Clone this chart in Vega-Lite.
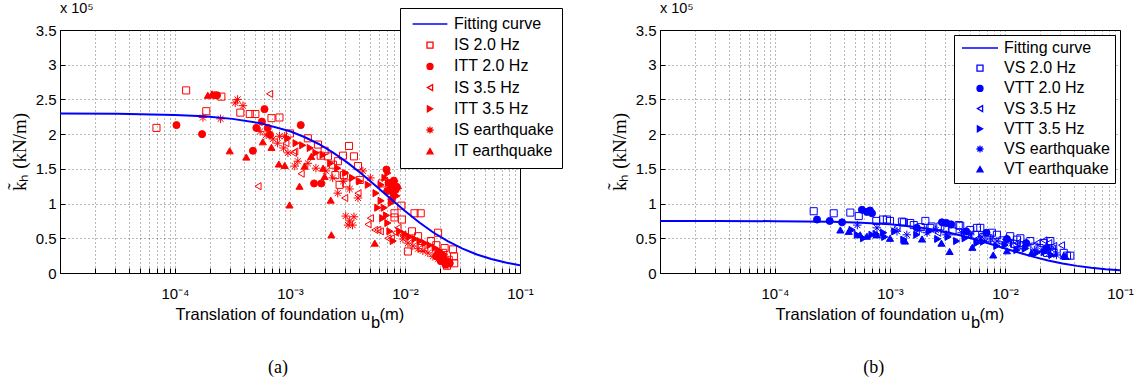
{
  "$schema": "https://vega.github.io/schema/vega-lite/v6.json",
  "background": "white",
  "padding": {"left": 9, "top": 0, "right": 5, "bottom": 5},
  "datasets": {
    "lp": [
      {"u":6.9e-5,"k":2.09,"s":"IS 2.0 Hz"},{"u":1.25e-4,"k":2.63,"s":"IS 2.0 Hz"},{"u":1.87e-4,"k":2.33,"s":"IS 2.0 Hz"},{"u":2.53e-4,"k":2.54,"s":"IS 2.0 Hz"},{"u":3.7e-4,"k":2.31,"s":"IS 2.0 Hz"},{"u":4.47e-4,"k":2.29,"s":"IS 2.0 Hz"},{"u":5.0e-4,"k":2.29,"s":"IS 2.0 Hz"},{"u":6.9e-4,"k":2.23,"s":"IS 2.0 Hz"},{"u":8.1e-4,"k":2.24,"s":"IS 2.0 Hz"},{"u":1.0e-3,"k":2.01,"s":"IS 2.0 Hz"},{"u":1.43e-3,"k":1.94,"s":"IS 2.0 Hz"},{"u":1.75e-3,"k":1.85,"s":"IS 2.0 Hz"},{"u":1.85e-3,"k":1.69,"s":"IS 2.0 Hz"},{"u":2.0e-3,"k":1.76,"s":"IS 2.0 Hz"},{"u":2.14e-3,"k":1.68,"s":"IS 2.0 Hz"},{"u":2.36e-3,"k":1.56,"s":"IS 2.0 Hz"},{"u":2.48e-3,"k":1.41,"s":"IS 2.0 Hz"},{"u":2.61e-3,"k":1.61,"s":"IS 2.0 Hz"},{"u":2.7e-3,"k":1.27,"s":"IS 2.0 Hz"},{"u":2.89e-3,"k":1.69,"s":"IS 2.0 Hz"},{"u":2.95e-3,"k":1.41,"s":"IS 2.0 Hz"},{"u":3.09e-3,"k":1.29,"s":"IS 2.0 Hz"},{"u":3.26e-3,"k":1.83,"s":"IS 2.0 Hz"},{"u":3.6e-3,"k":1.68,"s":"IS 2.0 Hz"},{"u":3.9e-3,"k":1.54,"s":"IS 2.0 Hz"},{"u":4.04e-3,"k":1.34,"s":"IS 2.0 Hz"},{"u":6.3e-3,"k":1.29,"s":"IS 2.0 Hz"},{"u":8.1e-3,"k":0.86,"s":"IS 2.0 Hz"},{"u":8.1e-3,"k":0.80,"s":"IS 2.0 Hz"},{"u":9.3e-3,"k":0.97,"s":"IS 2.0 Hz"},{"u":9.4e-3,"k":0.77,"s":"IS 2.0 Hz"},{"u":1.15e-2,"k":0.6,"s":"IS 2.0 Hz"},{"u":1.21e-2,"k":0.86,"s":"IS 2.0 Hz"},{"u":1.37e-2,"k":0.86,"s":"IS 2.0 Hz"},{"u":1.3e-2,"k":0.53,"s":"IS 2.0 Hz"},{"u":1.94e-2,"k":0.58,"s":"IS 2.0 Hz"},{"u":1.06e-2,"k":0.31,"s":"IS 2.0 Hz"},{"u":1.39e-2,"k":0.36,"s":"IS 2.0 Hz"},{"u":1.68e-2,"k":0.46,"s":"IS 2.0 Hz"},{"u":1.87e-2,"k":0.40,"s":"IS 2.0 Hz"},{"u":2.15e-2,"k":0.29,"s":"IS 2.0 Hz"},{"u":2.21e-2,"k":0.36,"s":"IS 2.0 Hz"},{"u":2.4e-2,"k":0.19,"s":"IS 2.0 Hz"},{"u":2.61e-2,"k":0.34,"s":"IS 2.0 Hz"},{"u":2.67e-2,"k":0.24,"s":"IS 2.0 Hz"},{"u":2.68e-2,"k":0.14,"s":"IS 2.0 Hz"},{"u":2.32e-2,"k":0.105,"s":"IS 2.0 Hz"},
      {"u":1.03e-4,"k":2.13,"s":"ITT 2.0 Hz"},{"u":1.72e-4,"k":2.0,"s":"ITT 2.0 Hz"},{"u":2.21e-4,"k":2.56,"s":"ITT 2.0 Hz"},{"u":2.32e-4,"k":2.56,"s":"ITT 2.0 Hz"},{"u":4.76e-4,"k":1.76,"s":"ITT 2.0 Hz"},{"u":5.1e-4,"k":2.09,"s":"ITT 2.0 Hz"},{"u":5.7e-4,"k":2.18,"s":"ITT 2.0 Hz"},{"u":6.0e-4,"k":2.36,"s":"ITT 2.0 Hz"},{"u":6.4e-4,"k":2.09,"s":"ITT 2.0 Hz"},{"u":6.7e-4,"k":1.99,"s":"ITT 2.0 Hz"},{"u":1.24e-3,"k":2.13,"s":"ITT 2.0 Hz"},{"u":1.62e-3,"k":1.29,"s":"ITT 2.0 Hz"},{"u":1.87e-3,"k":1.29,"s":"ITT 2.0 Hz"},{"u":6.9e-3,"k":1.49,"s":"ITT 2.0 Hz"},{"u":7.0e-3,"k":1.18,"s":"ITT 2.0 Hz"},{"u":7.4e-3,"k":1.22,"s":"ITT 2.0 Hz"},{"u":7.9e-3,"k":1.15,"s":"ITT 2.0 Hz"},{"u":7.7e-3,"k":1.06,"s":"ITT 2.0 Hz"},{"u":8.3e-3,"k":1.2,"s":"ITT 2.0 Hz"},{"u":7.2e-3,"k":1.30,"s":"ITT 2.0 Hz"},{"u":7.8e-3,"k":1.26,"s":"ITT 2.0 Hz"},{"u":8.5e-3,"k":1.24,"s":"ITT 2.0 Hz"},{"u":8.0e-3,"k":1.33,"s":"ITT 2.0 Hz"},{"u":1.87e-2,"k":0.24,"s":"ITT 2.0 Hz"},{"u":1.94e-2,"k":0.29,"s":"ITT 2.0 Hz"},{"u":2.05e-2,"k":0.17,"s":"ITT 2.0 Hz"},{"u":2.15e-2,"k":0.22,"s":"ITT 2.0 Hz"},{"u":2.36e-2,"k":0.17,"s":"ITT 2.0 Hz"},{"u":2.45e-2,"k":0.14,"s":"ITT 2.0 Hz"},{"u":2.25e-2,"k":0.12,"s":"ITT 2.0 Hz"},{"u":2.0e-2,"k":0.21,"s":"ITT 2.0 Hz"},
      {"u":6.65e-4,"k":2.58,"s":"IS 3.5 Hz"},{"u":5.27e-4,"k":1.25,"s":"IS 3.5 Hz"},{"u":9.2e-4,"k":1.87,"s":"IS 3.5 Hz"},{"u":1.07e-3,"k":1.73,"s":"IS 3.5 Hz"},{"u":1.1e-3,"k":1.75,"s":"IS 3.5 Hz"},{"u":1.25e-3,"k":1.43,"s":"IS 3.5 Hz"},{"u":2.99e-3,"k":1.08,"s":"IS 3.5 Hz"},{"u":3.9e-3,"k":1.15,"s":"IS 3.5 Hz"},{"u":4.77e-3,"k":0.70,"s":"IS 3.5 Hz"},{"u":5.0e-3,"k":0.79,"s":"IS 3.5 Hz"},{"u":5.46e-3,"k":0.62,"s":"IS 3.5 Hz"},{"u":5.8e-3,"k":0.62,"s":"IS 3.5 Hz"},{"u":6.1e-3,"k":0.60,"s":"IS 3.5 Hz"},{"u":7.1e-3,"k":0.50,"s":"IS 3.5 Hz"},{"u":7.6e-3,"k":0.50,"s":"IS 3.5 Hz"},{"u":8.3e-3,"k":0.58,"s":"IS 3.5 Hz"},{"u":8.7e-3,"k":0.65,"s":"IS 3.5 Hz"},{"u":9.6e-3,"k":0.55,"s":"IS 3.5 Hz"},
      {"u":9.6e-4,"k":1.94,"s":"ITT 3.5 Hz"},{"u":1.13e-3,"k":1.87,"s":"ITT 3.5 Hz"},{"u":1.29e-3,"k":1.84,"s":"ITT 3.5 Hz"},{"u":1.5e-3,"k":1.80,"s":"ITT 3.5 Hz"},{"u":1.68e-3,"k":1.73,"s":"ITT 3.5 Hz"},{"u":1.94e-3,"k":1.70,"s":"ITT 3.5 Hz"},{"u":2.26e-3,"k":1.58,"s":"ITT 3.5 Hz"},{"u":2.6e-3,"k":1.51,"s":"ITT 3.5 Hz"},{"u":3.05e-3,"k":1.44,"s":"ITT 3.5 Hz"},{"u":3.5e-3,"k":1.37,"s":"ITT 3.5 Hz"},{"u":4.05e-3,"k":1.32,"s":"ITT 3.5 Hz"},{"u":4.8e-3,"k":1.27,"s":"ITT 3.5 Hz"},{"u":5.6e-3,"k":1.15,"s":"ITT 3.5 Hz"},{"u":6.2e-3,"k":1.04,"s":"ITT 3.5 Hz"},{"u":6.6e-3,"k":0.94,"s":"ITT 3.5 Hz"},{"u":6.9e-3,"k":0.83,"s":"ITT 3.5 Hz"},{"u":7.1e-3,"k":0.72,"s":"ITT 3.5 Hz"},{"u":7.4e-3,"k":0.60,"s":"ITT 3.5 Hz"},{"u":7.9e-3,"k":0.46,"s":"ITT 3.5 Hz"},{"u":6.4e-3,"k":0.79,"s":"ITT 3.5 Hz"},{"u":5.8e-3,"k":0.94,"s":"ITT 3.5 Hz"},{"u":6.2e-3,"k":1.27,"s":"ITT 3.5 Hz"},{"u":6.7e-3,"k":1.37,"s":"ITT 3.5 Hz"},{"u":7.1e-3,"k":1.44,"s":"ITT 3.5 Hz"},{"u":8.2e-3,"k":1.32,"s":"ITT 3.5 Hz"},{"u":8.8e-3,"k":1.22,"s":"ITT 3.5 Hz"},{"u":8.5e-3,"k":1.11,"s":"ITT 3.5 Hz"},{"u":7.6e-3,"k":1.01,"s":"ITT 3.5 Hz"},{"u":9.0e-3,"k":0.60,"s":"ITT 3.5 Hz"},{"u":1.0e-2,"k":0.56,"s":"ITT 3.5 Hz"},{"u":1.1e-2,"k":0.52,"s":"ITT 3.5 Hz"},{"u":1.22e-2,"k":0.49,"s":"ITT 3.5 Hz"},{"u":1.35e-2,"k":0.46,"s":"ITT 3.5 Hz"},{"u":1.49e-2,"k":0.43,"s":"ITT 3.5 Hz"},{"u":1.65e-2,"k":0.40,"s":"ITT 3.5 Hz"},{"u":1.83e-2,"k":0.36,"s":"ITT 3.5 Hz"},{"u":2.0e-2,"k":0.32,"s":"ITT 3.5 Hz"},{"u":2.2e-2,"k":0.27,"s":"ITT 3.5 Hz"},
      {"u":1.75e-4,"k":2.24,"s":"IS earthquake"},{"u":2.49e-4,"k":2.22,"s":"IS earthquake"},{"u":3.34e-4,"k":2.45,"s":"IS earthquake"},{"u":3.5e-4,"k":2.5,"s":"IS earthquake"},{"u":3.9e-4,"k":2.41,"s":"IS earthquake"},{"u":5.5e-4,"k":2.04,"s":"IS earthquake"},{"u":6.2e-4,"k":1.99,"s":"IS earthquake"},{"u":7.1e-4,"k":1.93,"s":"IS earthquake"},{"u":7.8e-4,"k":1.87,"s":"IS earthquake"},{"u":8.1e-4,"k":1.97,"s":"IS earthquake"},{"u":8.8e-4,"k":1.80,"s":"IS earthquake"},{"u":9.0e-4,"k":1.97,"s":"IS earthquake"},{"u":9.6e-4,"k":1.73,"s":"IS earthquake"},{"u":1.1e-3,"k":1.54,"s":"IS earthquake"},{"u":1.17e-3,"k":1.61,"s":"IS earthquake"},{"u":1.43e-3,"k":1.58,"s":"IS earthquake"},{"u":1.68e-3,"k":1.51,"s":"IS earthquake"},{"u":2.05e-3,"k":1.47,"s":"IS earthquake"},{"u":2.35e-3,"k":1.37,"s":"IS earthquake"},{"u":2.6e-3,"k":1.15,"s":"IS earthquake"},{"u":2.9e-3,"k":1.32,"s":"IS earthquake"},{"u":3.05e-3,"k":0.82,"s":"IS earthquake"},{"u":3.2e-3,"k":0.69,"s":"IS earthquake"},{"u":3.3e-3,"k":0.75,"s":"IS earthquake"},{"u":3.3e-3,"k":1.21,"s":"IS earthquake"},{"u":3.5e-3,"k":0.69,"s":"IS earthquake"},{"u":3.6e-3,"k":0.81,"s":"IS earthquake"},{"u":3.9e-3,"k":1.08,"s":"IS earthquake"},{"u":4.3e-3,"k":1.47,"s":"IS earthquake"},{"u":5.0e-3,"k":1.37,"s":"IS earthquake"},{"u":9.6e-3,"k":0.49,"s":"IS earthquake"},{"u":1.06e-2,"k":0.43,"s":"IS earthquake"},{"u":1.17e-2,"k":0.39,"s":"IS earthquake"},{"u":1.3e-2,"k":0.35,"s":"IS earthquake"},{"u":1.43e-2,"k":0.32,"s":"IS earthquake"},{"u":1.58e-2,"k":0.29,"s":"IS earthquake"},{"u":1.75e-2,"k":0.24,"s":"IS earthquake"},{"u":1.94e-2,"k":0.20,"s":"IS earthquake"},{"u":2.15e-2,"k":0.17,"s":"IS earthquake"},{"u":2.36e-2,"k":0.115,"s":"IS earthquake"},
      {"u":1.93e-4,"k":2.56,"s":"IT earthquake"},{"u":2.1e-4,"k":2.58,"s":"IT earthquake"},{"u":2.99e-4,"k":1.76,"s":"IT earthquake"},{"u":4.17e-4,"k":1.67,"s":"IT earthquake"},{"u":5.8e-4,"k":1.89,"s":"IT earthquake"},{"u":6.9e-4,"k":1.81,"s":"IT earthquake"},{"u":8.0e-4,"k":1.57,"s":"IT earthquake"},{"u":9.0e-4,"k":1.55,"s":"IT earthquake"},{"u":9.9e-4,"k":0.98,"s":"IT earthquake"},{"u":1.21e-3,"k":1.25,"s":"IT earthquake"},{"u":1.34e-3,"k":1.54,"s":"IT earthquake"},{"u":1.53e-3,"k":1.68,"s":"IT earthquake"},{"u":1.94e-3,"k":1.51,"s":"IT earthquake"},{"u":2.0e-3,"k":1.39,"s":"IT earthquake"},{"u":2.26e-3,"k":1.05,"s":"IT earthquake"},{"u":2.29e-3,"k":0.55,"s":"IT earthquake"},{"u":5.46e-3,"k":0.43,"s":"IT earthquake"}
    ],
    "lf": [
      {"u":0.00001,"k":2.298,"s":"Fitting curve"},{"u":0.00003162,"k":2.293,"s":"Fitting curve"},{"u":0.0001,"k":2.277,"s":"Fitting curve"},{"u":0.0001778,"k":2.257,"s":"Fitting curve"},{"u":0.0003162,"k":2.220,"s":"Fitting curve"},{"u":0.0005623,"k":2.155,"s":"Fitting curve"},{"u":0.001,"k":2.041,"s":"Fitting curve"},{"u":0.001334,"k":1.959,"s":"Fitting curve"},{"u":0.001778,"k":1.858,"s":"Fitting curve"},{"u":0.002371,"k":1.734,"s":"Fitting curve"},{"u":0.003162,"k":1.589,"s":"Fitting curve"},{"u":0.004217,"k":1.426,"s":"Fitting curve"},{"u":0.005623,"k":1.25,"s":"Fitting curve"},{"u":0.007499,"k":1.069,"s":"Fitting curve"},{"u":0.01,"k":0.892,"s":"Fitting curve"},{"u":0.01334,"k":0.727,"s":"Fitting curve"},{"u":0.01778,"k":0.580,"s":"Fitting curve"},{"u":0.02371,"k":0.4545,"s":"Fitting curve"},{"u":0.03162,"k":0.350,"s":"Fitting curve"},{"u":0.04217,"k":0.2665,"s":"Fitting curve"},{"u":0.05623,"k":0.201,"s":"Fitting curve"},{"u":0.07499,"k":0.150,"s":"Fitting curve"},{"u":0.1,"k":0.111,"s":"Fitting curve"}
    ],
    "rp": [
      {"u":2.17e-4,"k":0.89,"s":"VS 2.0 Hz"},{"u":3.24e-4,"k":0.86,"s":"VS 2.0 Hz"},{"u":4.52e-4,"k":0.87,"s":"VS 2.0 Hz"},{"u":5.35e-4,"k":0.82,"s":"VS 2.0 Hz"},{"u":7.6e-4,"k":0.75,"s":"VS 2.0 Hz"},{"u":8.7e-4,"k":0.77,"s":"VS 2.0 Hz"},{"u":9.4e-4,"k":0.77,"s":"VS 2.0 Hz"},{"u":1.0e-3,"k":0.75,"s":"VS 2.0 Hz"},{"u":1.27e-3,"k":0.74,"s":"VS 2.0 Hz"},{"u":1.32e-3,"k":0.73,"s":"VS 2.0 Hz"},{"u":1.5e-3,"k":0.72,"s":"VS 2.0 Hz"},{"u":1.61e-3,"k":0.69,"s":"VS 2.0 Hz"},{"u":1.85e-3,"k":0.66,"s":"VS 2.0 Hz"},{"u":2.03e-3,"k":0.75,"s":"VS 2.0 Hz"},{"u":2.24e-3,"k":0.65,"s":"VS 2.0 Hz"},{"u":2.3e-3,"k":0.67,"s":"VS 2.0 Hz"},{"u":2.74e-3,"k":0.67,"s":"VS 2.0 Hz"},{"u":3.96e-3,"k":0.69,"s":"VS 2.0 Hz"},{"u":4.08e-3,"k":0.68,"s":"VS 2.0 Hz"},{"u":4.99e-3,"k":0.62,"s":"VS 2.0 Hz"},{"u":5.7e-3,"k":0.65,"s":"VS 2.0 Hz"},{"u":6.1e-3,"k":0.65,"s":"VS 2.0 Hz"},{"u":7.7e-3,"k":0.58,"s":"VS 2.0 Hz"},{"u":8.5e-3,"k":0.55,"s":"VS 2.0 Hz"},{"u":1.11e-2,"k":0.53,"s":"VS 2.0 Hz"},{"u":1.27e-2,"k":0.48,"s":"VS 2.0 Hz"},{"u":1.36e-2,"k":0.50,"s":"VS 2.0 Hz"},{"u":1.66e-2,"k":0.46,"s":"VS 2.0 Hz"},{"u":2.17e-2,"k":0.43,"s":"VS 2.0 Hz"},{"u":2.48e-2,"k":0.46,"s":"VS 2.0 Hz"},{"u":2.32e-2,"k":0.29,"s":"VS 2.0 Hz"},{"u":2.56e-2,"k":0.30,"s":"VS 2.0 Hz"},{"u":2.65e-2,"k":0.29,"s":"VS 2.0 Hz"},{"u":3.24e-2,"k":0.29,"s":"VS 2.0 Hz"},{"u":3.46e-2,"k":0.25,"s":"VS 2.0 Hz"},{"u":3.7e-2,"k":0.25,"s":"VS 2.0 Hz"},{"u":3.0e-3,"k":0.63,"s":"VS 2.0 Hz"},{"u":3.5e-3,"k":0.60,"s":"VS 2.0 Hz"},{"u":4.5e-3,"k":0.57,"s":"VS 2.0 Hz"},{"u":5.5e-3,"k":0.55,"s":"VS 2.0 Hz"},{"u":6.5e-3,"k":0.52,"s":"VS 2.0 Hz"},{"u":7.2e-3,"k":0.50,"s":"VS 2.0 Hz"},{"u":9.5e-3,"k":0.47,"s":"VS 2.0 Hz"},{"u":1.2e-2,"k":0.42,"s":"VS 2.0 Hz"},{"u":1.45e-2,"k":0.40,"s":"VS 2.0 Hz"},{"u":1.8e-2,"k":0.38,"s":"VS 2.0 Hz"},{"u":2.0e-2,"k":0.36,"s":"VS 2.0 Hz"},
      {"u":2.32e-4,"k":0.77,"s":"VTT 2.0 Hz"},{"u":2.99e-4,"k":0.75,"s":"VTT 2.0 Hz"},{"u":3.83e-4,"k":0.73,"s":"VTT 2.0 Hz"},{"u":5.7e-4,"k":0.91,"s":"VTT 2.0 Hz"},{"u":6.3e-4,"k":0.88,"s":"VTT 2.0 Hz"},{"u":6.7e-4,"k":0.90,"s":"VTT 2.0 Hz"},{"u":6.97e-4,"k":0.86,"s":"VTT 2.0 Hz"},{"u":1.71e-3,"k":0.65,"s":"VTT 2.0 Hz"},{"u":2.83e-3,"k":0.73,"s":"VTT 2.0 Hz"},{"u":3.1e-3,"k":0.72,"s":"VTT 2.0 Hz"},{"u":3.4e-3,"k":0.70,"s":"VTT 2.0 Hz"},{"u":4.6e-3,"k":0.60,"s":"VTT 2.0 Hz"},{"u":6.9e-3,"k":0.58,"s":"VTT 2.0 Hz"},{"u":1.04e-2,"k":0.49,"s":"VTT 2.0 Hz"},{"u":1.53e-2,"k":0.43,"s":"VTT 2.0 Hz"},{"u":2.3e-2,"k":0.36,"s":"VTT 2.0 Hz"},
      {"u":1.15e-3,"k":0.66,"s":"VS 3.5 Hz"},{"u":2.6e-3,"k":0.58,"s":"VS 3.5 Hz"},{"u":5.7e-3,"k":0.49,"s":"VS 3.5 Hz"},{"u":1.27e-2,"k":0.43,"s":"VS 3.5 Hz"},{"u":1.9e-2,"k":0.43,"s":"VS 3.5 Hz"},{"u":2.18e-2,"k":0.47,"s":"VS 3.5 Hz"},{"u":2.4e-2,"k":0.43,"s":"VS 3.5 Hz"},{"u":2.58e-2,"k":0.35,"s":"VS 3.5 Hz"},{"u":2.65e-2,"k":0.39,"s":"VS 3.5 Hz"},{"u":3.1e-2,"k":0.40,"s":"VS 3.5 Hz"},
      {"u":4.68e-4,"k":0.62,"s":"VTT 3.5 Hz"},{"u":5.2e-4,"k":0.55,"s":"VTT 3.5 Hz"},{"u":5.9e-4,"k":0.50,"s":"VTT 3.5 Hz"},{"u":6.97e-4,"k":0.55,"s":"VTT 3.5 Hz"},{"u":7.6e-4,"k":0.56,"s":"VTT 3.5 Hz"},{"u":8.8e-4,"k":0.58,"s":"VTT 3.5 Hz"},{"u":1.32e-3,"k":0.48,"s":"VTT 3.5 Hz"},{"u":1.71e-3,"k":0.55,"s":"VTT 3.5 Hz"},{"u":2.6e-3,"k":0.49,"s":"VTT 3.5 Hz"},{"u":3.8e-3,"k":0.46,"s":"VTT 3.5 Hz"},{"u":5.7e-3,"k":0.43,"s":"VTT 3.5 Hz"},{"u":8.5e-3,"k":0.39,"s":"VTT 3.5 Hz"},{"u":1.27e-2,"k":0.33,"s":"VTT 3.5 Hz"},{"u":1.9e-2,"k":0.29,"s":"VTT 3.5 Hz"},{"u":2.56e-2,"k":0.26,"s":"VTT 3.5 Hz"},{"u":2.2e-3,"k":0.60,"s":"VTT 3.5 Hz"},{"u":3.2e-3,"k":0.52,"s":"VTT 3.5 Hz"},{"u":4.5e-3,"k":0.50,"s":"VTT 3.5 Hz"},{"u":6.5e-3,"k":0.45,"s":"VTT 3.5 Hz"},{"u":1.0e-2,"k":0.40,"s":"VTT 3.5 Hz"},{"u":1.5e-2,"k":0.35,"s":"VTT 3.5 Hz"},{"u":2.2e-2,"k":0.30,"s":"VTT 3.5 Hz"},{"u":9.0e-4,"k":0.52,"s":"VTT 3.5 Hz"},{"u":1.1e-3,"k":0.60,"s":"VTT 3.5 Hz"},
      {"u":5.2e-4,"k":0.69,"s":"VS earthquake"},{"u":7.7e-4,"k":0.65,"s":"VS earthquake"},{"u":1.15e-3,"k":0.60,"s":"VS earthquake"},{"u":1.4e-3,"k":0.55,"s":"VS earthquake"},{"u":2.1e-3,"k":0.58,"s":"VS earthquake"},{"u":3.1e-3,"k":0.55,"s":"VS earthquake"},{"u":4.2e-3,"k":0.58,"s":"VS earthquake"},{"u":6.3e-3,"k":0.52,"s":"VS earthquake"},{"u":8.5e-3,"k":0.46,"s":"VS earthquake"},{"u":1.14e-2,"k":0.43,"s":"VS earthquake"},{"u":1.53e-2,"k":0.39,"s":"VS earthquake"},{"u":2.1e-2,"k":0.32,"s":"VS earthquake"},{"u":2.8e-2,"k":0.26,"s":"VS earthquake"},{"u":1.8e-3,"k":0.62,"s":"VS earthquake"},{"u":2.5e-3,"k":0.62,"s":"VS earthquake"},{"u":5.0e-3,"k":0.55,"s":"VS earthquake"},{"u":7.5e-3,"k":0.49,"s":"VS earthquake"},{"u":1.0e-2,"k":0.45,"s":"VS earthquake"},{"u":1.3e-2,"k":0.38,"s":"VS earthquake"},{"u":1.8e-2,"k":0.33,"s":"VS earthquake"},{"u":2.4e-2,"k":0.28,"s":"VS earthquake"},
      {"u":3.7e-4,"k":0.62,"s":"VT earthquake"},{"u":4.38e-4,"k":0.60,"s":"VT earthquake"},{"u":5.5e-4,"k":0.55,"s":"VT earthquake"},{"u":6.3e-4,"k":0.53,"s":"VT earthquake"},{"u":7.7e-4,"k":0.55,"s":"VT earthquake"},{"u":1.0e-3,"k":0.50,"s":"VT earthquake"},{"u":1.35e-3,"k":0.46,"s":"VT earthquake"},{"u":1.9e-3,"k":0.49,"s":"VT earthquake"},{"u":2.8e-3,"k":0.43,"s":"VT earthquake"},{"u":3.3e-3,"k":0.31,"s":"VT earthquake"},{"u":5.2e-3,"k":0.37,"s":"VT earthquake"},{"u":7.9e-3,"k":0.26,"s":"VT earthquake"},{"u":1.04e-2,"k":0.32,"s":"VT earthquake"},{"u":1.7e-2,"k":0.29,"s":"VT earthquake"},{"u":3.24e-2,"k":0.25,"s":"VT earthquake"},{"u":3.35e-2,"k":0.24,"s":"VT earthquake"}
    ],
    "rf": [
      {"u":0.00001,"k":0.7498,"s":"Fitting curve"},{"u":0.00003162,"k":0.749,"s":"Fitting curve"},{"u":0.0001,"k":0.7467,"s":"Fitting curve"},{"u":0.0001778,"k":0.7434,"s":"Fitting curve"},{"u":0.0003162,"k":0.737,"s":"Fitting curve"},{"u":0.0005623,"k":0.7244,"s":"Fitting curve"},{"u":0.001,"k":0.7005,"s":"Fitting curve"},{"u":0.001334,"k":0.682,"s":"Fitting curve"},{"u":0.001778,"k":0.657,"s":"Fitting curve"},{"u":0.002371,"k":0.6254,"s":"Fitting curve"},{"u":0.003162,"k":0.5855,"s":"Fitting curve"},{"u":0.004217,"k":0.5368,"s":"Fitting curve"},{"u":0.005623,"k":0.480,"s":"Fitting curve"},{"u":0.007499,"k":0.4183,"s":"Fitting curve"},{"u":0.01,"k":0.354,"s":"Fitting curve"},{"u":0.01334,"k":0.2905,"s":"Fitting curve"},{"u":0.01778,"k":0.232,"s":"Fitting curve"},{"u":0.02371,"k":0.1804,"s":"Fitting curve"},{"u":0.03162,"k":0.137,"s":"Fitting curve"},{"u":0.04217,"k":0.1027,"s":"Fitting curve"},{"u":0.05623,"k":0.0758,"s":"Fitting curve"},{"u":0.07499,"k":0.0553,"s":"Fitting curve"},{"u":0.1,"k":0.040,"s":"Fitting curve"}
    ]
  },
  "spacing": 46,
  "resolve": {
    "scale": {"x": "independent", "y": "independent", "shape": "independent", "fill": "independent", "stroke": "independent"},
    "legend": {"shape": "independent", "fill": "independent", "stroke": "independent"}
  },
  "hconcat": [
    {
      "title": {"text": "(a)", "orient": "bottom", "anchor": "middle", "font": "Liberation Serif", "fontSize": 18, "fontWeight": "normal", "color": "black", "offset": 28, "dx": -8},
      "vconcat": [
        {
          "width": 460,
          "height": 243,
          "title": {"text": "x 10\u2075", "anchor": "start", "frame": "group", "font": "Liberation Sans", "fontSize": 14.5, "fontWeight": "normal", "color": "black", "offset": 7},
          "encoding": {
            "x": {"field": "u", "type": "quantitative", "scale": {"type": "log", "domain": [0.00001, 0.1]},
              "axis": {"values": [0.00001,0.00002,0.00003,0.00004,0.00005,0.00006,0.00007,0.00008,0.00009,0.0001,0.0002,0.0003,0.0004,0.0005,0.0006,0.0007,0.0008,0.0009,0.001,0.002,0.003,0.004,0.005,0.006,0.007,0.008,0.009,0.01,0.02,0.03,0.04,0.05,0.06,0.07,0.08,0.09,0.1],
                "labelExpr": "datum.value == 0.0001 ? '10\u207b\u2074' : datum.value == 0.001 ? '10\u207b\u00b3' : datum.value == 0.01 ? '10\u207b\u00b2' : datum.value == 0.1 ? '10\u207b\u00b9' : ''",
                "labelOverlap": false, "labelFlush": false, "labelFontSize": 15, "labelPadding": 18, "tickSize": -5,
                "title": ["Translation of foundation u\u2007(m)", "\u200b\u2007\u2007\u2007\u2007\u2007\u2007\u2007\u2007\u2007\u2007\u2007\u2007\u2007\u2007\u2007\u2007\u2007\u2007\u2007\u2007\u2007\u200a\u200ab"],
                "titleAlign": "left", "titleX": 115, "titleLineHeight": 8, "titleFontSize": 16.5, "titleFont": "Liberation Sans", "titleFontWeight": "normal", "titlePadding": 5}},
            "y": {"field": "k", "type": "quantitative", "scale": {"domain": [0, 3.5]},
              "axis": {"values": [0,0.5,1,1.5,2,2.5,3,3.5], "format": "~g", "labelFontSize": 15, "labelPadding": 9, "tickSize": -5,
                "title": "k\u0303\u2095 (kN/m)", "titleFont": "Liberation Serif", "titleFontSize": 19, "titleFontWeight": "normal", "titlePadding": 6}}
          },
          "layer": [
            {
              "data": {"name": "lp"},
              "mark": {"type": "point", "opacity": 1, "strokeWidth": 1, "size": 50, "clip": true},
              "encoding": {
                "shape": {"field": "s", "type": "nominal",
                  "scale": {"domain": ["Fitting curve","IS 2.0 Hz","ITT 2.0 Hz","IS 3.5 Hz","ITT 3.5 Hz","IS earthquake","IT earthquake"],
                    "range": ["M-5.8,0L5.8,0","square","circle","triangle-left","triangle-right","M-1.2,0L1.2,0M0,-1.2L0,1.2M-0.85,-0.85L0.85,0.85M-0.85,0.85L0.85,-0.85","triangle-up"]},
                  "legend": {"title": null, "orient": "none", "legendX": 340, "legendY": -22, "padding": 8, "strokeColor": "black", "fillColor": "white", "cornerRadius": 0,
                    "labelFont": "Liberation Sans", "labelFontSize": 16, "labelColor": "black", "labelLimit": 0, "symbolSize": 36, "symbolStrokeWidth": 1.3, "symbolOffset": 14, "labelOffset": 16, "rowPadding": 5.2}},
                "fill": {"field": "s", "type": "nominal",
                  "scale": {"domain": ["Fitting curve","IS 2.0 Hz","ITT 2.0 Hz","IS 3.5 Hz","ITT 3.5 Hz","IS earthquake","IT earthquake"],
                    "range": ["transparent","transparent","#ff0000","transparent","#ff0000","transparent","#ff0000"]}},
                "stroke": {"field": "s", "type": "nominal",
                  "scale": {"domain": ["Fitting curve","IS 2.0 Hz","ITT 2.0 Hz","IS 3.5 Hz","ITT 3.5 Hz","IS earthquake","IT earthquake"],
                    "range": ["#0000ff","#ff0000","#ff0000","#ff0000","#ff0000","#ff0000","#ff0000"]}}
              }
            },
            {
              "data": {"name": "lf"},
              "mark": {"type": "line", "strokeWidth": 2, "clip": true},
              "encoding": {"stroke": {"field": "s", "type": "nominal"}}
            }
          ]
        }
      ]
    },
    {
      "title": {"text": "(b)", "orient": "bottom", "anchor": "middle", "font": "Liberation Serif", "fontSize": 18, "fontWeight": "normal", "color": "black", "offset": 28, "dx": 2},
      "vconcat": [
        {
          "width": 460,
          "height": 243,
          "title": {"text": "x 10\u2075", "anchor": "start", "frame": "group", "font": "Liberation Sans", "fontSize": 14.5, "fontWeight": "normal", "color": "black", "offset": 7},
          "encoding": {
            "x": {"field": "u", "type": "quantitative", "scale": {"type": "log", "domain": [0.00001, 0.1]},
              "axis": {"values": [0.00001,0.00002,0.00003,0.00004,0.00005,0.00006,0.00007,0.00008,0.00009,0.0001,0.0002,0.0003,0.0004,0.0005,0.0006,0.0007,0.0008,0.0009,0.001,0.002,0.003,0.004,0.005,0.006,0.007,0.008,0.009,0.01,0.02,0.03,0.04,0.05,0.06,0.07,0.08,0.09,0.1],
                "labelExpr": "datum.value == 0.0001 ? '10\u207b\u2074' : datum.value == 0.001 ? '10\u207b\u00b3' : datum.value == 0.01 ? '10\u207b\u00b2' : datum.value == 0.1 ? '10\u207b\u00b9' : ''",
                "labelOverlap": false, "labelFlush": false, "labelFontSize": 15, "labelPadding": 18, "tickSize": -5,
                "title": ["Translation of foundation u\u2007(m)", "\u200b\u2007\u2007\u2007\u2007\u2007\u2007\u2007\u2007\u2007\u2007\u2007\u2007\u2007\u2007\u2007\u2007\u2007\u2007\u2007\u2007\u2007\u200a\u200ab"],
                "titleAlign": "left", "titleX": 115, "titleLineHeight": 8, "titleFontSize": 16.5, "titleFont": "Liberation Sans", "titleFontWeight": "normal", "titlePadding": 5}},
            "y": {"field": "k", "type": "quantitative", "scale": {"domain": [0, 3.5]},
              "axis": {"values": [0,0.5,1,1.5,2,2.5,3,3.5], "format": "~g", "labelFontSize": 15, "labelPadding": 9, "tickSize": -5,
                "title": "k\u0303\u2095 (kN/m)", "titleFont": "Liberation Serif", "titleFontSize": 19, "titleFontWeight": "normal", "titlePadding": 6}}
          },
          "layer": [
            {
              "data": {"name": "rp"},
              "mark": {"type": "point", "opacity": 1, "strokeWidth": 1, "size": 50, "clip": true},
              "encoding": {
                "shape": {"field": "s", "type": "nominal",
                  "scale": {"domain": ["Fitting curve","VS 2.0 Hz","VTT 2.0 Hz","VS 3.5 Hz","VTT 3.5 Hz","VS earthquake","VT earthquake"],
                    "range": ["M-6,0L6,0","square","circle","triangle-left","triangle-right","M-1.2,0L1.2,0M0,-1.2L0,1.2M-0.85,-0.85L0.85,0.85M-0.85,0.85L0.85,-0.85","triangle-up"]},
                  "legend": {"title": null, "orient": "none", "legendX": 294, "legendY": 5, "padding": 5, "strokeColor": "black", "fillColor": "white", "cornerRadius": 0,
                    "labelFont": "Liberation Sans", "labelFontSize": 16, "labelColor": "black", "labelLimit": 0, "symbolSize": 36, "symbolStrokeWidth": 1.3, "symbolOffset": 13, "labelOffset": 16, "rowPadding": 4.2}},
                "fill": {"field": "s", "type": "nominal",
                  "scale": {"domain": ["Fitting curve","VS 2.0 Hz","VTT 2.0 Hz","VS 3.5 Hz","VTT 3.5 Hz","VS earthquake","VT earthquake"],
                    "range": ["transparent","transparent","#0000ff","transparent","#0000ff","transparent","#0000ff"]}},
                "stroke": {"field": "s", "type": "nominal",
                  "scale": {"domain": ["Fitting curve","VS 2.0 Hz","VTT 2.0 Hz","VS 3.5 Hz","VTT 3.5 Hz","VS earthquake","VT earthquake"],
                    "range": ["#0000ff","#0000ff","#0000ff","#0000ff","#0000ff","#0000ff","#0000ff"]}}
              }
            },
            {
              "data": {"name": "rf"},
              "mark": {"type": "line", "strokeWidth": 2, "clip": true},
              "encoding": {"stroke": {"field": "s", "type": "nominal"}}
            }
          ]
        }
      ]
    }
  ],
  "config": {
    "font": "Liberation Sans",
    "view": {"stroke": "black", "strokeWidth": 1},
    "axis": {"domainColor": "black", "domainWidth": 1, "tickColor": "black", "tickWidth": 1, "labelColor": "black", "titleColor": "black", "labelFont": "Liberation Sans",
      "grid": true, "gridColor": "#000000", "gridDash": [1, 3], "gridOpacity": 0.55, "gridWidth": 1}
  }
}
